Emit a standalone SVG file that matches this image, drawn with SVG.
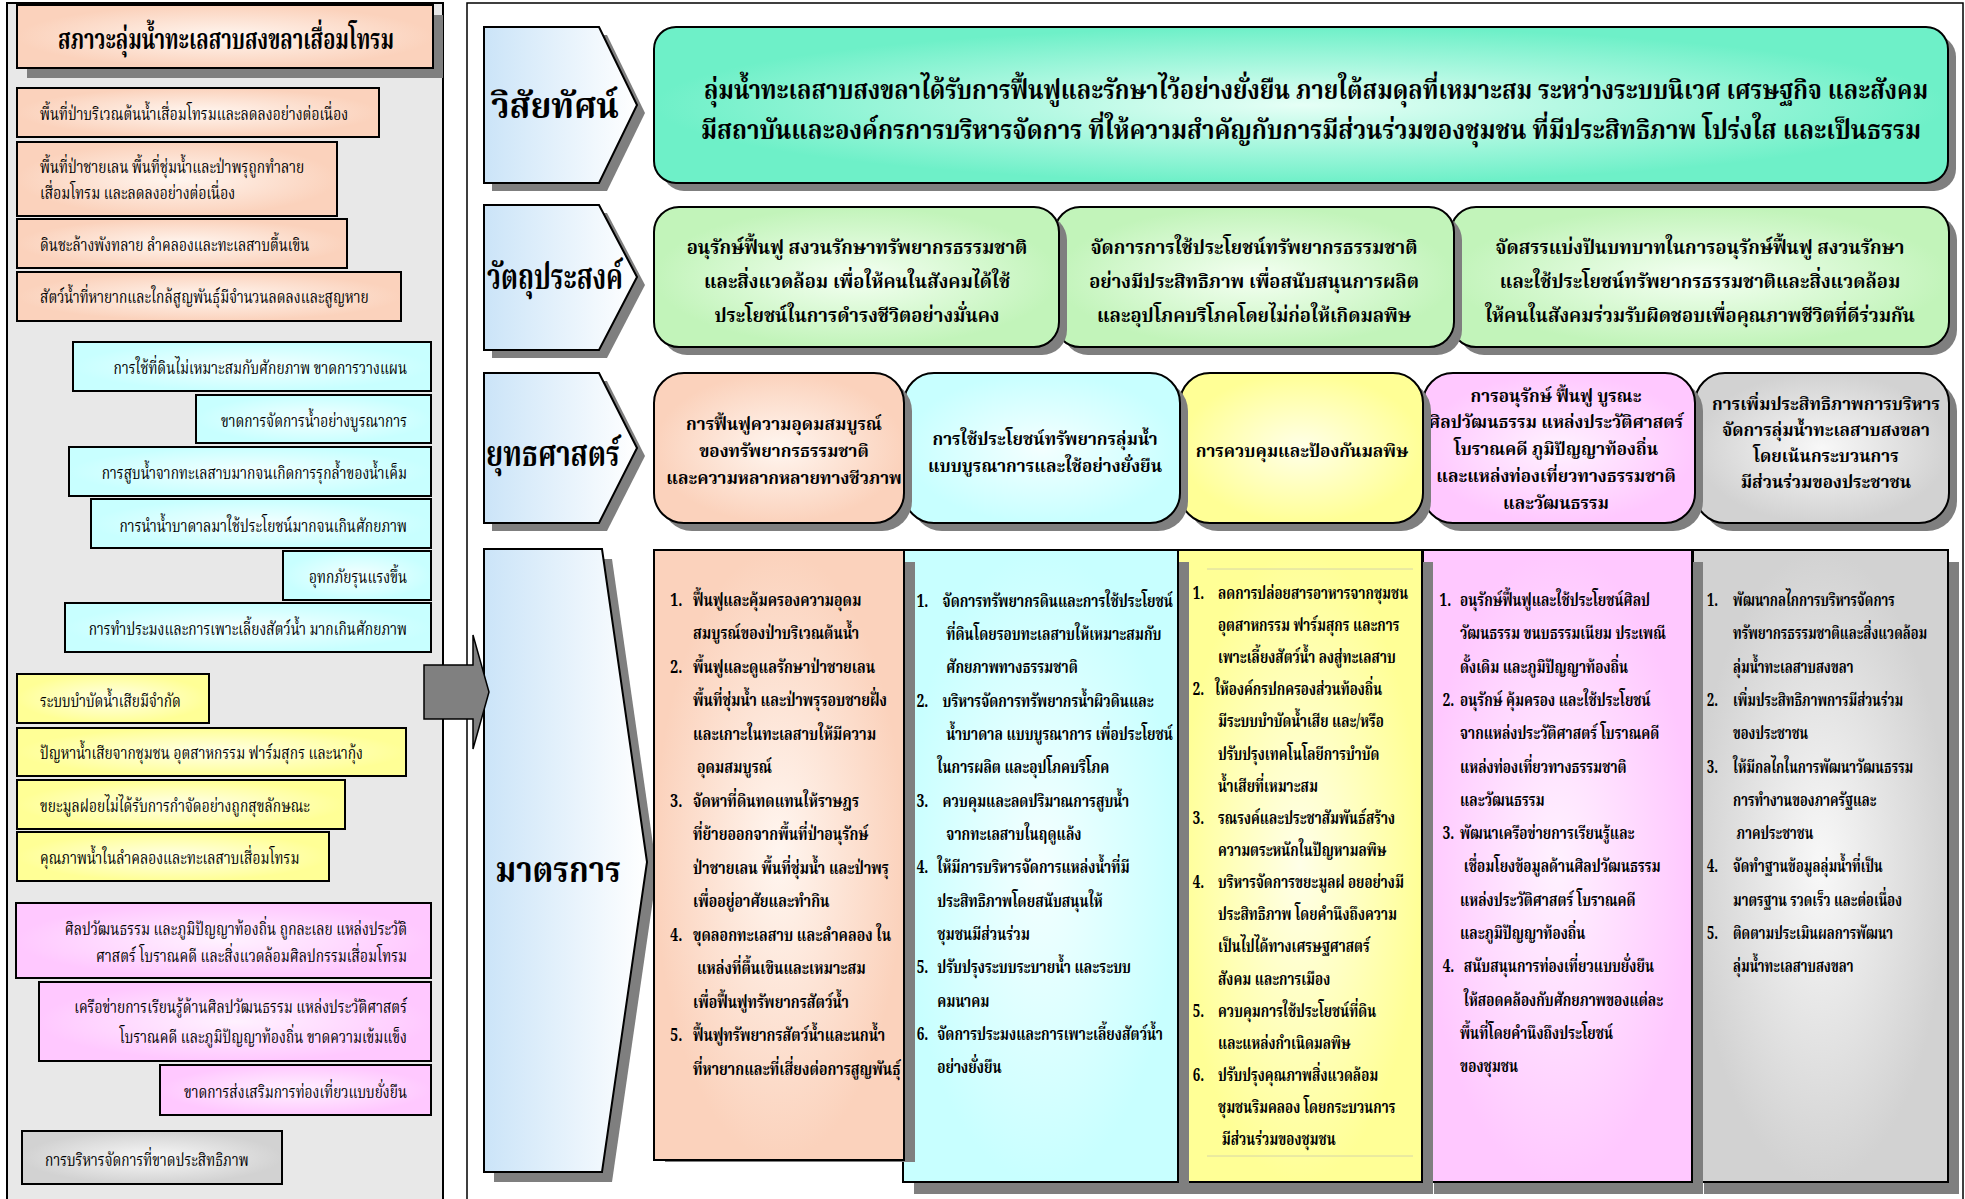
<svg xmlns="http://www.w3.org/2000/svg" width="1965" height="1199" viewBox="0 0 1965 1199">
<defs>
<style>
.t{font-family:'Noto Serif Thai','Noto Sans Thai','Liberation Serif',serif;fill:#000}
.b{font-weight:bold}
.bx{stroke:#000;stroke-width:2}
.sh{fill:#7f7f7f}
.f17{font-size:17px}.f18{font-size:18px}.f20{font-size:20px}.f26{font-size:26px}.f28{font-size:28px}.f36{font-size:36px}
</style>
<radialGradient id="gPeach"><stop offset="0" stop-color="#fff6f0"/><stop offset="1" stop-color="#fbd2bc"/></radialGradient>
<radialGradient id="gCyan"><stop offset="0" stop-color="#f4ffff"/><stop offset="1" stop-color="#c8ffff"/></radialGradient>
<radialGradient id="gYellow"><stop offset="0" stop-color="#ffffe8"/><stop offset="1" stop-color="#ffff96"/></radialGradient>
<radialGradient id="gPink"><stop offset="0" stop-color="#fff2ff"/><stop offset="1" stop-color="#ffc8ff"/></radialGradient>
<radialGradient id="gGray"><stop offset="0" stop-color="#f8f8f8"/><stop offset="1" stop-color="#d2d2d2"/></radialGradient>
<radialGradient id="gTeal"><stop offset="0" stop-color="#e6fff6"/><stop offset="1" stop-color="#6ef0c8"/></radialGradient>
<radialGradient id="gGreen"><stop offset="0" stop-color="#f4fff2"/><stop offset="1" stop-color="#c2f4ba"/></radialGradient>
<linearGradient id="gLabel" x1="0" y1="0" x2="1" y2="0"><stop offset="0" stop-color="#cbe4f8"/><stop offset="1" stop-color="#ffffff"/></linearGradient>
</defs>

<!-- panels -->
<g id="left-panel">
<rect x="7" y="3" width="436" height="1210" fill="#e8e8e8" stroke="#000" stroke-width="2"/>
</g>
<g id="right-panel">
<rect x="467" y="3" width="1496" height="1210" fill="#fff" stroke="#000" stroke-width="1.5"/>
</g>

<!-- left: conditions -->
<g id="cond-title">
<rect class="sh" x="27" y="15" width="416" height="63"/>
<rect class="bx" x="17" y="5" width="416" height="63" fill="url(#gPeach)" stroke-width="2.5"/>
<text class="t b f28" text-anchor="middle" transform="translate(226 49) scale(.72 1)">สภาวะลุ่มน้ำทะเลสาบสงขลาเสื่อมโทรม</text>
</g>
<g id="cond-1"><rect class="bx" x="17" y="88" width="362" height="49" fill="url(#gPeach)"/>
<text class="t f18" transform="translate(40 120) scale(.765 1)">พื้นที่ป่าบริเวณต้นน้ำเสื่อมโทรมและลดลงอย่างต่อเนื่อง</text></g>
<g id="cond-2"><rect class="bx" x="17" y="142" width="320" height="74" fill="url(#gPeach)"/>
<text class="t f18" transform="translate(40 173) scale(.765 1)">พื้นที่ป่าชายเลน  พื้นที่ชุ่มน้ำและป่าพรุถูกทำลาย</text>
<text class="t f18" transform="translate(40 199) scale(.765 1)">เสื่อมโทรม และลดลงอย่างต่อเนื่อง</text></g>
<g id="cond-3"><rect class="bx" x="17" y="219" width="330" height="49" fill="url(#gPeach)"/>
<text class="t f18" transform="translate(40 251) scale(.765 1)">ดินชะล้างพังทลาย  ลำคลองและทะเลสาบตื้นเขิน</text></g>
<g id="cond-4"><rect class="bx" x="17" y="272" width="384" height="49" fill="url(#gPeach)"/>
<text class="t f18" transform="translate(40 303) scale(.765 1)">สัตว์น้ำที่หายากและใกล้สูญพันธุ์มีจำนวนลดลงและสูญหาย</text></g>

<g id="cond-5"><rect class="bx" x="73" y="342" width="358" height="49" fill="url(#gCyan)"/>
<text class="t f18" text-anchor="end" transform="translate(407 374) scale(.765 1)">การใช้ที่ดินไม่เหมาะสมกับศักยภาพ  ขาดการวางแผน</text></g>
<g id="cond-6"><rect class="bx" x="196" y="395" width="235" height="48" fill="url(#gCyan)"/>
<text class="t f18" text-anchor="end" transform="translate(407 427) scale(.765 1)">ขาดการจัดการน้ำอย่างบูรณาการ</text></g>
<g id="cond-7"><rect class="bx" x="69" y="447" width="362" height="49" fill="url(#gCyan)"/>
<text class="t f18" text-anchor="end" transform="translate(407 479) scale(.765 1)">การสูบน้ำจากทะเลสาบมากจนเกิดการรุกล้ำของน้ำเค็ม</text></g>
<g id="cond-8"><rect class="bx" x="91" y="499" width="340" height="49" fill="url(#gCyan)"/>
<text class="t f18" text-anchor="end" transform="translate(407 532) scale(.765 1)">การนำน้ำบาดาลมาใช้ประโยชน์มากจนเกินศักยภาพ</text></g>
<g id="cond-9"><rect class="bx" x="283" y="551" width="148" height="49" fill="url(#gCyan)"/>
<text class="t f18" text-anchor="end" transform="translate(407 583) scale(.765 1)">อุทกภัยรุนแรงขึ้น</text></g>
<g id="cond-10"><rect class="bx" x="65" y="603" width="366" height="49" fill="url(#gCyan)"/>
<text class="t f18" text-anchor="end" transform="translate(407 635) scale(.765 1)">การทำประมงและการเพาะเลี้ยงสัตว์น้ำ  มากเกินศักยภาพ</text></g>

<g id="cond-11"><rect class="bx" x="17" y="674" width="192" height="49" fill="url(#gYellow)"/>
<text class="t f18" transform="translate(40 707) scale(.765 1)">ระบบบำบัดน้ำเสียมีจำกัด</text></g>
<g id="cond-12"><rect class="bx" x="17" y="728" width="389" height="48" fill="url(#gYellow)"/>
<text class="t f18" transform="translate(40 759) scale(.765 1)">ปัญหาน้ำเสียจากชุมชน  อุตสาหกรรม  ฟาร์มสุกร  และนากุ้ง</text></g>
<g id="cond-13"><rect class="bx" x="17" y="780" width="328" height="49" fill="url(#gYellow)"/>
<text class="t f18" transform="translate(40 812) scale(.765 1)">ขยะมูลฝอยไม่ได้รับการกำจัดอย่างถูกสุขลักษณะ</text></g>
<g id="cond-14"><rect class="bx" x="17" y="832" width="312" height="49" fill="url(#gYellow)"/>
<text class="t f18" transform="translate(40 864) scale(.765 1)">คุณภาพน้ำในลำคลองและทะเลสาบเสื่อมโทรม</text></g>

<g id="cond-15"><rect class="bx" x="16" y="903" width="415" height="75" fill="url(#gPink)"/>
<text class="t f18" text-anchor="end" transform="translate(407 935) scale(.765 1)">ศิลปวัฒนธรรม  และภูมิปัญญาท้องถิ่น  ถูกละเลย  แหล่งประวัติ</text>
<text class="t f18" text-anchor="end" transform="translate(407 962) scale(.765 1)">ศาสตร์  โบราณคดี  และสิ่งแวดล้อมศิลปกรรมเสื่อมโทรม</text></g>
<g id="cond-16"><rect class="bx" x="39" y="982" width="392" height="79" fill="url(#gPink)"/>
<text class="t f18" text-anchor="end" transform="translate(407 1013) scale(.765 1)">เครือข่ายการเรียนรู้ด้านศิลปวัฒนธรรม แหล่งประวัติศาสตร์</text>
<text class="t f18" text-anchor="end" transform="translate(407 1043) scale(.765 1)">โบราณคดี และภูมิปัญญาท้องถิ่น ขาดความเข้มแข็ง</text></g>
<g id="cond-17"><rect class="bx" x="160" y="1065" width="271" height="50" fill="url(#gPink)"/>
<text class="t f18" text-anchor="end" transform="translate(407 1098) scale(.765 1)">ขาดการส่งเสริมการท่องเที่ยวแบบยั่งยืน</text></g>

<g id="cond-18"><rect class="bx" x="22" y="1131" width="260" height="53" fill="url(#gGray)"/>
<text class="t f18" transform="translate(45 1166) scale(.765 1)">การบริหารจัดการที่ขาดประสิทธิภาพ</text></g>

<!-- row labels -->
<g id="label-vision">
<polygon class="sh" points="492,35 607,35 645,113 607,191 492,191"/>
<polygon class="bx" points="484,27 599,27 637,105 599,183 484,183" fill="url(#gLabel)" stroke-width="1.5"/>
<text class="t b f36" text-anchor="middle" transform="translate(555 118) scale(.935 1)">วิสัยทัศน์</text>
</g>
<g id="label-objectives">
<polygon class="sh" points="492,213 607,213 645,285 607,358 492,358"/>
<polygon class="bx" points="484,205 599,205 637,277 599,350 484,350" fill="url(#gLabel)" stroke-width="1.5"/>
<text class="t b f36" text-anchor="middle" transform="translate(555 289) scale(.71 1)">วัตถุประสงค์</text>
</g>
<g id="label-strategies">
<polygon class="sh" points="492,381 607,381 645,456 607,531 492,531"/>
<polygon class="bx" points="484,373 599,373 637,448 599,523 484,523" fill="url(#gLabel)" stroke-width="1.5"/>
<text class="t b f36" text-anchor="middle" transform="translate(553 466) scale(.765 1)">ยุทธศาสตร์</text>
</g>
<g id="label-measures">
<polygon class="sh" points="494,559 612,559 657,872 612,1182 494,1182"/>
<polygon class="bx" points="484,549 602,549 647,862 602,1172 484,1172" fill="url(#gLabel)" stroke-width="1.5"/>
<text class="t b f36" text-anchor="middle" transform="translate(558 882) scale(.87 1)">มาตรการ</text>
</g>

<!-- vision -->
<g id="vision">
<rect class="sh" x="662" y="35" width="1294" height="156" rx="22"/>
<rect class="bx" x="654" y="27" width="1294" height="156" rx="22" fill="url(#gTeal)"/>
<text class="t b f26" text-anchor="middle" transform="translate(1316 99) scale(.898 1)">ลุ่มน้ำทะเลสาบสงขลาได้รับการฟื้นฟูและรักษาไว้อย่างยั่งยืน ภายใต้สมดุลที่เหมาะสม ระหว่างระบบนิเวศ เศรษฐกิจ และสังคม</text>
<text class="t b f26" text-anchor="middle" transform="translate(1311 139) scale(.923 1)">มีสถาบันและองค์กรการบริหารจัดการ ที่ให้ความสำคัญกับการมีส่วนร่วมของชุมชน ที่มีประสิทธิภาพ โปร่งใส และเป็นธรรม</text>
</g>

<!-- objectives -->
<g id="objective-3">
<rect class="sh" x="1459" y="215" width="498" height="140" rx="25"/>
<rect class="bx" x="1451" y="207" width="498" height="140" rx="25" fill="url(#gGreen)"/>
<text class="t b f20" text-anchor="middle" transform="translate(1700 254) scale(.92 1)">จัดสรรแบ่งปันบทบาทในการอนุรักษ์ฟื้นฟู สงวนรักษา</text>
<text class="t b f20" text-anchor="middle" transform="translate(1700 288) scale(.92 1)">และใช้ประโยชน์ทรัพยากรธรรมชาติและสิ่งแวดล้อม</text>
<text class="t b f20" text-anchor="middle" transform="translate(1700 322) scale(.92 1)">ให้คนในสังคมร่วมรับผิดชอบเพื่อคุณภาพชีวิตที่ดีร่วมกัน</text>
</g>
<g id="objective-2">
<rect class="sh" x="1063" y="215" width="399" height="140" rx="25"/>
<rect class="bx" x="1055" y="207" width="399" height="140" rx="25" fill="url(#gGreen)"/>
<text class="t b f20" text-anchor="middle" transform="translate(1254 254) scale(.92 1)">จัดการการใช้ประโยชน์ทรัพยากรธรรมชาติ</text>
<text class="t b f20" text-anchor="middle" transform="translate(1254 288) scale(.92 1)">อย่างมีประสิทธิภาพ เพื่อสนับสนุนการผลิต</text>
<text class="t b f20" text-anchor="middle" transform="translate(1254 322) scale(.92 1)">และอุปโภคบริโภคโดยไม่ก่อให้เกิดมลพิษ</text>
</g>
<g id="objective-1">
<rect class="sh" x="662" y="215" width="405" height="140" rx="25"/>
<rect class="bx" x="654" y="207" width="405" height="140" rx="25" fill="url(#gGreen)"/>
<text class="t b f20" text-anchor="middle" transform="translate(857 254) scale(.92 1)">อนุรักษ์ฟื้นฟู สงวนรักษาทรัพยากรธรรมชาติ</text>
<text class="t b f20" text-anchor="middle" transform="translate(857 288) scale(.92 1)">และสิ่งแวดล้อม เพื่อให้คนในสังคมได้ใช้</text>
<text class="t b f20" text-anchor="middle" transform="translate(857 322) scale(.92 1)">ประโยชน์ในการดำรงชีวิตอย่างมั่นคง</text>
</g>

<!-- strategies -->
<g id="strategy-5">
<rect class="sh" x="1703" y="381" width="254" height="150" rx="30"/>
<rect class="bx" x="1695" y="373" width="254" height="150" rx="30" fill="url(#gGray)"/>
<text class="t b f17" text-anchor="middle" x="1826" y="410">การเพิ่มประสิทธิภาพการบริหาร</text>
<text class="t b f17" text-anchor="middle" x="1826" y="436">จัดการลุ่มน้ำทะเลสาบสงขลา</text>
<text class="t b f17" text-anchor="middle" x="1826" y="462">โดยเน้นกระบวนการ</text>
<text class="t b f17" text-anchor="middle" x="1826" y="488">มีส่วนร่วมของประชาชน</text>
</g>
<g id="strategy-4">
<rect class="sh" x="1431" y="381" width="272" height="150" rx="30"/>
<rect class="bx" x="1423" y="373" width="272" height="150" rx="30" fill="url(#gPink)"/>
<text class="t b f17" text-anchor="middle" x="1556" y="402">การอนุรักษ์  ฟื้นฟู  บูรณะ</text>
<text class="t b f17" text-anchor="middle" x="1556" y="428">ศิลปวัฒนธรรม แหล่งประวัติศาสตร์</text>
<text class="t b f17" text-anchor="middle" x="1556" y="455">โบราณคดี  ภูมิปัญญาท้องถิ่น</text>
<text class="t b f17" text-anchor="middle" x="1556" y="482">และแหล่งท่องเที่ยวทางธรรมชาติ</text>
<text class="t b f17" text-anchor="middle" x="1556" y="509">และวัฒนธรรม</text>
</g>
<g id="strategy-3">
<rect class="sh" x="1188" y="381" width="243" height="150" rx="30"/>
<rect class="bx" x="1180" y="373" width="243" height="150" rx="30" fill="url(#gYellow)"/>
<text class="t b f17" text-anchor="middle" x="1302" y="457">การควบคุมและป้องกันมลพิษ</text>
</g>
<g id="strategy-2">
<rect class="sh" x="912" y="381" width="276" height="150" rx="30"/>
<rect class="bx" x="904" y="373" width="276" height="150" rx="30" fill="url(#gCyan)"/>
<text class="t b f17" text-anchor="middle" x="1045" y="445">การใช้ประโยชน์ทรัพยากรลุ่มน้ำ</text>
<text class="t b f17" text-anchor="middle" x="1045" y="472">แบบบูรณาการและใช้อย่างยั่งยืน</text>
</g>
<g id="strategy-1">
<rect class="sh" x="662" y="381" width="250" height="150" rx="30"/>
<rect class="bx" x="654" y="373" width="250" height="150" rx="30" fill="url(#gPeach)"/>
<text class="t b f17" text-anchor="middle" x="784" y="430">การฟื้นฟูความอุดมสมบูรณ์</text>
<text class="t b f17" text-anchor="middle" x="784" y="457">ของทรัพยากรธรรมชาติ</text>
<text class="t b f17" text-anchor="middle" x="784" y="484">และความหลากหลายทางชีวภาพ</text>
</g>

<!-- measures -->
<g id="measure-5">
<rect class="sh" x="1704" y="562" width="255" height="632"/>
<rect class="bx" x="1693" y="550" width="255" height="632" fill="url(#gGray)"/>
<g class="t b f18" transform="translate(1733 0) scale(.72 1)">
<text x="-36" y="606">1.</text><text x="0" y="606">พัฒนากลไกการบริหารจัดการ</text>
<text x="0" y="639">ทรัพยากรธรรมชาติและสิ่งแวดล้อม</text>
<text x="0" y="673">ลุ่มน้ำทะเลสาบสงขลา</text>
<text x="-36" y="706">2.</text><text x="0" y="706">เพิ่มประสิทธิภาพการมีส่วนร่วม</text>
<text x="0" y="739">ของประชาชน</text>
<text x="-36" y="773">3.</text><text x="0" y="773">ให้มีกลไกในการพัฒนาวัฒนธรรม</text>
<text x="0" y="806">การทำงานของภาครัฐและ</text>
<text x="5" y="839">ภาคประชาชน</text>
<text x="-36" y="872">4.</text><text x="0" y="872">จัดทำฐานข้อมูลลุ่มน้ำที่เป็น</text>
<text x="0" y="906">มาตรฐาน รวดเร็ว และต่อเนื่อง</text>
<text x="-36" y="939">5.</text><text x="0" y="939">ติดตามประเมินผลการพัฒนา</text>
<text x="0" y="972">ลุ่มน้ำทะเลสาบสงขลา</text>
</g>
</g>
<g id="measure-4">
<rect class="sh" x="1434" y="562" width="269" height="632"/>
<rect class="bx" x="1423" y="550" width="269" height="632" fill="url(#gPink)"/>
<g class="t b f18" transform="translate(1460 0) scale(.755 1)">
<text x="-27" y="606">1.</text><text x="0" y="606">อนุรักษ์ฟื้นฟูและใช้ประโยชน์ศิลป</text>
<text x="0" y="639">วัฒนธรรม ขนบธรรมเนียม ประเพณี</text>
<text x="0" y="673">ดั้งเดิม และภูมิปัญญาท้องถิ่น</text>
<text x="-23" y="706">2.</text><text x="0" y="706">อนุรักษ์ คุ้มครอง และใช้ประโยชน์</text>
<text x="0" y="739">จากแหล่งประวัติศาสตร์ โบราณคดี</text>
<text x="0" y="773">แหล่งท่องเที่ยวทางธรรมชาติ</text>
<text x="0" y="806">และวัฒนธรรม</text>
<text x="-23" y="839">3.</text><text x="0" y="839">พัฒนาเครือข่ายการเรียนรู้และ</text>
<text x="5" y="872">เชื่อมโยงข้อมูลด้านศิลปวัฒนธรรม</text>
<text x="0" y="906">แหล่งประวัติศาสตร์ โบราณคดี</text>
<text x="0" y="939">และภูมิปัญญาท้องถิ่น</text>
<text x="-23" y="972">4.</text><text x="5" y="972">สนับสนุนการท่องเที่ยวแบบยั่งยืน</text>
<text x="5" y="1006">ให้สอดคล้องกับศักยภาพของแต่ละ</text>
<text x="0" y="1039">พื้นที่โดยคำนึงถึงประโยชน์</text>
<text x="0" y="1072">ของชุมชน</text>
</g>
</g>
<g id="measure-3">
<rect class="sh" x="1189" y="562" width="244" height="632"/>
<rect class="bx" x="1178" y="550" width="244" height="632" fill="url(#gYellow)"/>
<line x1="1207" y1="569" x2="1413" y2="569" stroke="#d6d6a8" stroke-width="1"/>
<line x1="1207" y1="1156" x2="1413" y2="1156" stroke="#d6d6a8" stroke-width="1"/>
<g class="t b f18" transform="translate(1218 0) scale(.745 1)">
<text x="-34" y="599">1.</text><text x="0" y="599">ลดการปล่อยสารอาหารจากชุมชน</text>
<text x="0" y="631">อุตสาหกรรม ฟาร์มสุกร และการ</text>
<text x="0" y="663">เพาะเลี้ยงสัตว์น้ำ ลงสู่ทะเลสาบ</text>
<text x="-34" y="695">2.</text><text x="-4" y="695">ให้องค์กรปกครองส่วนท้องถิ่น</text>
<text x="0" y="727">มีระบบบำบัดน้ำเสีย และ/หรือ</text>
<text x="0" y="760">ปรับปรุงเทคโนโลยีการบำบัด</text>
<text x="0" y="792">น้ำเสียที่เหมาะสม</text>
<text x="-34" y="824">3.</text><text x="0" y="824">รณรงค์และประชาสัมพันธ์สร้าง</text>
<text x="0" y="856">ความตระหนักในปัญหามลพิษ</text>
<text x="-34" y="888">4.</text><text x="0" y="888">บริหารจัดการขยะมูลฝ อยอย่างมี</text>
<text x="0" y="920">ประสิทธิภาพ โดยคำนึงถึงความ</text>
<text x="0" y="952">เป็นไปได้ทางเศรษฐศาสตร์</text>
<text x="0" y="985">สังคม และการเมือง</text>
<text x="-34" y="1017">5.</text><text x="0" y="1017">ควบคุมการใช้ประโยชน์ที่ดิน</text>
<text x="0" y="1049">และแหล่งกำเนิดมลพิษ</text>
<text x="-34" y="1081">6.</text><text x="0" y="1081">ปรับปรุงคุณภาพสิ่งแวดล้อม</text>
<text x="0" y="1113">ชุมชนริมคลอง โดยกระบวนการ</text>
<text x="5" y="1145">มีส่วนร่วมของชุมชน</text>
</g>
</g>
<g id="measure-2">
<rect class="sh" x="914" y="562" width="275" height="632"/>
<rect class="bx" x="903" y="550" width="275" height="632" fill="url(#gCyan)"/>
<g class="t b f18" transform="translate(941 0) scale(.76 1)">
<text x="-32" y="607">1.</text><text x="2" y="607">จัดการทรัพยากรดินและการใช้ประโยชน์</text>
<text x="7" y="640">ที่ดินโดยรอบทะเลสาบให้เหมาะสมกับ</text>
<text x="7" y="673">ศักยภาพทางธรรมชาติ</text>
<text x="-32" y="707">2.</text><text x="2" y="707">บริหารจัดการทรัพยากรน้ำผิวดินและ</text>
<text x="7" y="740">น้ำบาดาล แบบบูรณาการ เพื่อประโยชน์</text>
<text x="-5" y="773">ในการผลิต  และอุปโภคบริโภค</text>
<text x="-32" y="807">3.</text><text x="2" y="807">ควบคุมและลดปริมาณการสูบน้ำ</text>
<text x="7" y="840">จากทะเลสาบในฤดูแล้ง</text>
<text x="-32" y="873">4.</text><text x="-5" y="873">ให้มีการบริหารจัดการแหล่งน้ำที่มี</text>
<text x="-5" y="907">ประสิทธิภาพโดยสนับสนุนให้</text>
<text x="-5" y="940">ชุมชนมีส่วนร่วม</text>
<text x="-32" y="973">5.</text><text x="-5" y="973">ปรับปรุงระบบระบายน้ำ และระบบ</text>
<text x="-5" y="1007">คมนาคม</text>
<text x="-32" y="1040">6.</text><text x="-5" y="1040">จัดการประมงและการเพาะเลี้ยงสัตว์น้ำ</text>
<text x="-5" y="1073">อย่างยั่งยืน</text>
</g>
</g>
<g id="measure-1">
<rect class="sh" x="665" y="562" width="250" height="600"/>
<rect class="bx" x="654" y="550" width="250" height="610" fill="url(#gPeach)"/>
<g class="t b f18" transform="translate(693 0) scale(.785 1)">
<text x="-29" y="606">1.</text><text x="0" y="606">ฟื้นฟูและคุ้มครองความอุดม</text>
<text x="0" y="639">สมบูรณ์ของป่าบริเวณต้นน้ำ</text>
<text x="-29" y="673">2.</text><text x="0" y="673">พื้นฟูและดูแลรักษาป่าชายเลน</text>
<text x="0" y="706">พื้นที่ชุ่มน้ำ และป่าพรุรอบชายฝั่ง</text>
<text x="0" y="740">และเกาะในทะเลสาบให้มีความ</text>
<text x="5" y="773">อุดมสมบูรณ์</text>
<text x="-29" y="807">3.</text><text x="0" y="807">จัดหาที่ดินทดแทนให้ราษฎร</text>
<text x="0" y="840">ที่ย้ายออกจากพื้นที่ป่าอนุรักษ์</text>
<text x="0" y="874">ป่าชายเลน พื้นที่ชุ่มน้ำ และป่าพรุ</text>
<text x="0" y="907">เพื่ออยู่อาศัยและทำกิน</text>
<text x="-29" y="941">4.</text><text x="0" y="941">ขุดลอกทะเลสาบ และลำคลอง ใน</text>
<text x="5" y="974">แหล่งที่ตื้นเขินและเหมาะสม</text>
<text x="0" y="1008">เพื่อฟื้นฟูทรัพยากรสัตว์น้ำ</text>
<text x="-29" y="1041">5.</text><text x="0" y="1041">ฟื้นฟูทรัพยากรสัตว์น้ำและนกน้ำ</text>
<text x="0" y="1075">ที่หายากและที่เสี่ยงต่อการสูญพันธุ์</text>
</g>
</g>

<!-- connectors -->
<g id="connectors">
<polygon points="424,665 473,665 473,635 489,692 473,749 473,719 424,719" fill="#808080" stroke="#000" stroke-width="1.5"/>
</g>
</svg>
